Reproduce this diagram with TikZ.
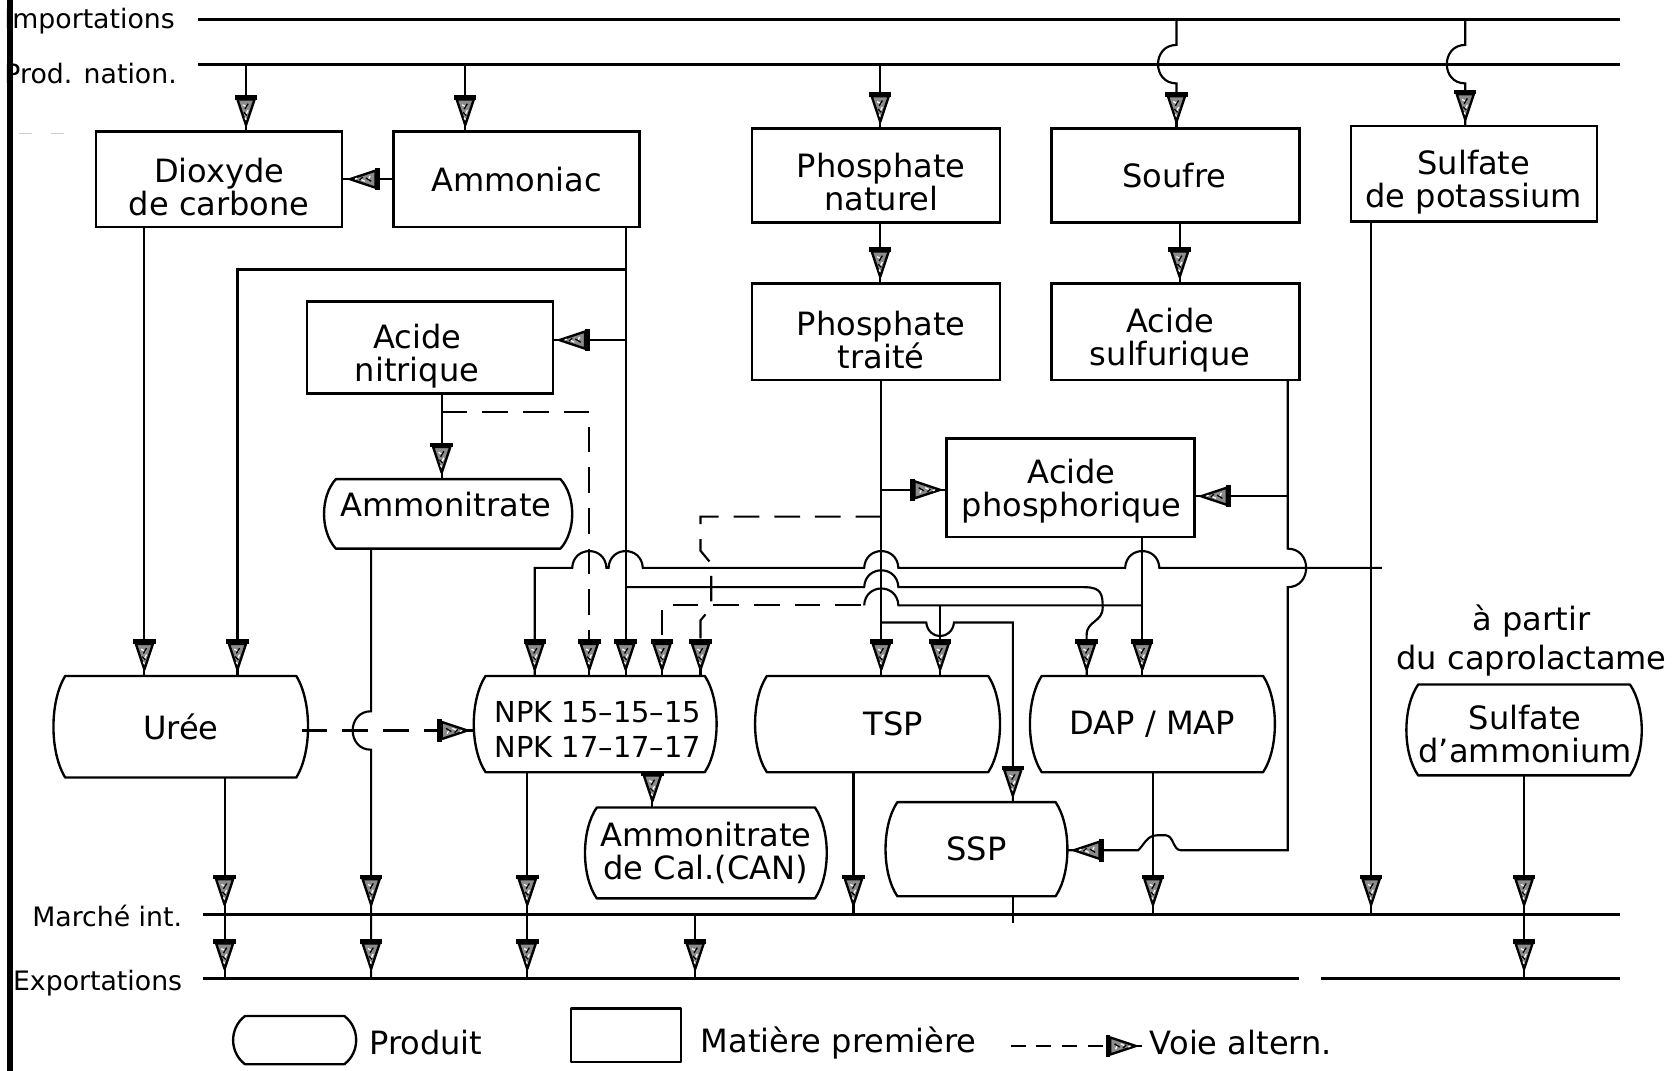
\documentclass[tikz,border=0pt]{standalone}
\usepackage{fontspec}
\setmainfont{DejaVu Sans}
\newcommand{\bxf}{\fontsize{30}{31}\selectfont}
\newcommand{\npkf}{\fontsize{27}{33}\selectfont}
\newcommand{\capf}{\fontsize{30}{37}\selectfont}
\newcommand{\lbf}{\fontsize{25}{27}\selectfont}
\newcommand{\hopU}[2]{-- ({#1-16},#2) .. controls ({#1-15},{#2-21}) and ({#1+15},{#2-21}) .. ({#1+16},#2)}
\newcommand{\hopD}[2]{-- ({#1-13},#2) .. controls ({#1-11},{#2+17}) and ({#1+11},{#2+17}) .. ({#1+13},#2)}
\newcommand{\hopL}[2]{-- (#1,{#2-18}) .. controls ({#1-23},{#2-18}) and ({#1-23},{#2+18}) .. (#1,{#2+18})}
\newcommand{\hopR}[2]{-- (#1,{#2-18}) .. controls ({#1+23},{#2-18}) and ({#1+23},{#2+18}) .. (#1,{#2+18})}
\newcommand{\prodshape}[4]{\draw[pline] ({#1+11},#2) -- ({#3-11},#2) .. controls ({#3+3.7},{#2+0.25*(#4-#2)}) and ({#3+3.7},{#4-0.25*(#4-#2)}) .. ({#3-11},#4) -- ({#1+11},#4) .. controls ({#1-3.7},{#4-0.25*(#4-#2)}) and ({#1-3.7},{#2+0.25*(#4-#2)}) .. ({#1+11},#2) -- cycle;}
\begin{document}
\begin{tikzpicture}[x=1pt,y=-1pt,
  ln/.style={line width=2pt},
  mainln/.style={line width=3pt},
  alt/.style={line width=2pt, dash pattern=on 24pt off 14pt},
  pline/.style={line width=2.2pt, line join=round},
  mp/.style={draw, line width=2.2pt, inner sep=0pt},
  prodtxt/.style={inner sep=0pt, align=center, font=\bxf},
  lbl/.style={inner sep=0pt, anchor=west, font=\lbf},
  farr/.pic={
    \draw[line width=2pt] (0,0) -- (0,-7);
    \filldraw[fill=black!45, line width=2.2pt, line join=round] (-8,-30) -- (8,-30) -- (0,-6) -- cycle;
    \draw[white, line width=1.1pt] (-3,-25) -- (1,-23) (2,-20) -- (0,-16) (-1,-13) -- (0,-11);
    \draw[black, line width=1.2pt] (2,-26) -- (-1,-21) (-2,-18) -- (1,-15);
    \draw[line width=4.5pt] (-10.5,-32) -- (10.5,-32);
  }]
\useasboundingbox (0,0) rectangle (1568,1001);
\fill[white] (0,0) rectangle (1568,1001);

% ---- labels
\node[lbl] (limp) at (4,20) {Importations};
\node[lbl] (lpro) at (4,69) {Prod. nation.};
\node[lbl] (lmar) at (30,856) {Marché int.};
\node[lbl] (lexp) at (12,919) {Exportations};
\fill (7,0) rectangle (12,1001);
\draw[gray!40, line width=1.5pt] (18,125) -- (30,125) (48,125) -- (60,125);

% ---- market lines
\draw[mainln] (185,18) -- (1515,18);
\draw[mainln] (185,60) -- (1515,60);
\draw[mainln] (190,855) -- (1515,855);
\draw[mainln] (190,915) -- (1215,915) (1235,915) -- (1515,915);

% ---- raw materials (boxes and their texts)
\node[mp, minimum width=230pt, minimum height=89pt] (co2) at (205,167.5) {};
\node[prodtxt] (co2t) at (205,175) {Dioxyde\\de carbone};
\node[mp, minimum width=230pt, minimum height=89pt] (nh3) at (483,167.5) {};
\node[prodtxt] (nh3t) at (483,168) {Ammoniac};
\node[mp, minimum width=232pt, minimum height=88pt] (phn) at (819,164) {};
\node[prodtxt] (phnt) at (824,170) {Phosphate\\naturel};
\node[mp, minimum width=232pt, minimum height=88pt] (sou) at (1099,164) {};
\node[prodtxt] (sout) at (1098,164) {Soufre};
\node[mp, minimum width=230pt, minimum height=89pt] (skp) at (1378,162.5) {};
\node[prodtxt] (skpt) at (1378,170) {Sulfate\\de potassium};
\node[mp, minimum width=232pt, minimum height=90pt] (pht) at (819,310) {};
\node[prodtxt] (phtt) at (824,318) {Phosphate\\traité};
\node[mp, minimum width=232pt, minimum height=90pt] (hso) at (1099,310) {};
\node[prodtxt] (hsot) at (1094,318) {Acide\\sulfurique};
\node[mp, minimum width=230pt, minimum height=86pt] (hno) at (402,325) {};
\node[prodtxt] (hnot) at (390,333) {Acide\\nitrique};
\node[mp, minimum width=232pt, minimum height=92pt] (hpo) at (1001,456) {};
\node[prodtxt] (hpot) at (1002,459) {Acide\\phosphorique};

% ---- products
\prodshape{303}{448}{535}{513}
\node[prodtxt, minimum width=232pt, minimum height=65pt] (amn) at (419,480.5) {};
\node[prodtxt] (amnt) at (417,472) {Ammonitrate};
\prodshape{50}{632}{288}{727}
\node[prodtxt, minimum width=238pt, minimum height=95pt] (uree) at (169,679.5) {Urée};
\prodshape{443}{632}{670}{722}
\node[prodtxt, minimum width=227pt, minimum height=90pt] (npk) at (556.5,677) {};
\node[prodtxt, font=\npkf] (npkt) at (559,682) {NPK 15–15–15\\NPK 17–17–17};
\prodshape{706}{632}{935}{722}
\node[prodtxt, minimum width=229pt, minimum height=90pt] (tsp) at (820.5,677) {};
\node[prodtxt] (tspt) at (835,677) {TSP};
\prodshape{963}{632}{1192}{722}
\node[prodtxt, minimum width=229pt, minimum height=90pt] (dap) at (1077.5,677) {DAP / MAP};
\prodshape{1315}{640}{1535}{725}
\node[prodtxt, minimum width=220pt, minimum height=85pt] (sam) at (1425,682.5) {};
\node[prodtxt] (samt) at (1426,686) {Sulfate\\d’ammonium};
\prodshape{547}{755}{773}{840}
\node[prodtxt, minimum width=226pt, minimum height=85pt] (can) at (660,797.5) {Ammonitrate\\de Cal.(CAN)};
\prodshape{828}{750}{998}{838}
\node[prodtxt, minimum width=170pt, minimum height=88pt] (ssp) at (913,794) {SSP};
\node[prodtxt, font=\capf] (lcap) at (1432,599) {à partir\\du caprolactame};

% ---- top feeds
\draw[ln] (230,60) -- (230,123);  \pic at (230,123) {farr};
\draw[ln] (435,60) -- (435,123);  \pic at (435,123) {farr};
\draw[ln] (823,60) -- (823,120);  \pic at (823,120) {farr};
\draw[ln] (1100,18) \hopL{1100}{60} -- (1100,120); \pic at (1100,120) {farr};
\draw[ln] (1370,18) \hopL{1370}{60} -- (1370,118); \pic at (1370,118) {farr};
\draw[ln] (nh3.west) -- (co2.east); \pic[rotate=-90] at (co2.east) {farr};
\draw[ln] (823,208) -- (823,265); \pic at (823,265) {farr};
\draw[ln] (1103,208) -- (1103,265); \pic at (1103,265) {farr};

% ---- left part
\draw[ln] (135,212) -- (135,632); \pic at (135,632) {farr};
\draw[ln] (585,212) -- (585,632); \pic at (585,632) {farr};
\draw[ln] (585,252) -- (222,252) -- (222,632); \pic at (222,632) {farr};
\draw[ln] (585,318) -- (517,318); \pic[rotate=-90] at (517,318) {farr};
\draw[ln] (413,368) -- (413,448); \pic at (413,448) {farr};
\draw[alt] (413,385) -- (551,385) -- (551,632); \pic at (551,632) {farr};
\draw[ln] (347,513) \hopL{347}{683} -- (347,915); \pic at (347,852) {farr}; \pic at (347,912) {farr};
\draw[ln] (210,727) -- (210,915); \pic at (210,852) {farr}; \pic at (210,912) {farr};
\draw[alt] (282,683) -- (443,683); \pic[rotate=90] at (443,683) {farr};
\draw[ln] (493,722) -- (493,915); \pic at (493,852) {farr}; \pic at (493,912) {farr};
\draw[ln] (610,722) -- (610,755); \pic at (610,755) {farr};
\draw[ln] (650,855) -- (650,915); \pic at (650,912) {farr};

% ---- right part outputs
\draw[ln] (798,722) -- (798,855); \pic at (798,852) {farr};
\draw[ln] (1078,722) -- (1078,855); \pic at (1078,852) {farr};
\draw[ln] (1425,725) -- (1425,915); \pic at (1425,852) {farr}; \pic at (1425,912) {farr};
\draw[ln] (1282,207) -- (1282,855); \pic at (1282,852) {farr};

% ---- line A (sulfate de potassium -> NPK)
\draw[ln] (500,632) -- (500,531) \hopU{551}{531} \hopU{585}{531} \hopU{824}{531} \hopU{1068}{531} -- (1292,531);
\pic at (500,632) {farr};
% ---- line B (ammoniac -> DAP)
\draw[ln] (585,549) \hopU{824}{549} -- (1014,549) .. controls (1030,549) and (1031,556) .. (1031,568) .. controls (1031,582) and (1016,580) .. (1016,594) -- (1016,632);
\pic at (1016,632) {farr};
% ---- acide phosphorique -> DAP, TSP, NPK
\draw[ln] (1068,502) -- (1068,632); \pic at (1068,632) {farr};
\draw[ln] (808,566) .. controls (809,545) and (839,545) .. (840,566) -- (1068,566);
\draw[alt] (619,632) -- (619,566) -- (808,566); \pic at (619,632) {farr};
\draw[ln] (879,566) -- (879,632); \pic at (879,632) {farr};
% ---- phosphate traite
\draw[ln] (824,355) -- (824,632); \pic at (824,632) {farr};
\draw[ln] (824,458) -- (885,458); \pic[rotate=90] at (885,458) {farr};
\draw[ln] (824,582) \hopD{879}{582} -- (947,582) -- (947,750); \pic at (947,750) {farr};
\draw[ln] (947,838) -- (947,863);
\draw[alt] (824,483) -- (655,483) -- (655,515) -- (665,527) -- (665,568) -- (655,580) -- (655,632); \pic at (655,632) {farr};
% ---- acide sulfurique
\draw[ln] (1204,355) \hopR{1204}{531} -- (1204,795) -- (1104,795) .. controls (1097,795) and (1097,781) .. (1090,781) -- (1082,781) .. controls (1072,781) and (1070,790) .. (1064,795) -- (998,795);
\pic[rotate=-90] at (998,795) {farr};
\draw[ln] (1204,464) -- (1117,464); \pic[rotate=-90] at (1117,464) {farr};

% ---- legend
\prodshape{218}{950}{333}{995}
\draw[pline] (534,943) rectangle (637,993);
\node[lbl, font=\bxf] (tprod) at (345,975) {Produit};
\node[lbl, font=\bxf] (tmat) at (655,975) {Matière première};
\draw[line width=2pt, dash pattern=on 14pt off 10pt] (945,978) -- (1040,978);
\pic[rotate=90] at (1068,978) {farr};
\node[lbl, font=\bxf] (tvoie) at (1075,975) {Voie altern.};
\end{tikzpicture}
\end{document}
